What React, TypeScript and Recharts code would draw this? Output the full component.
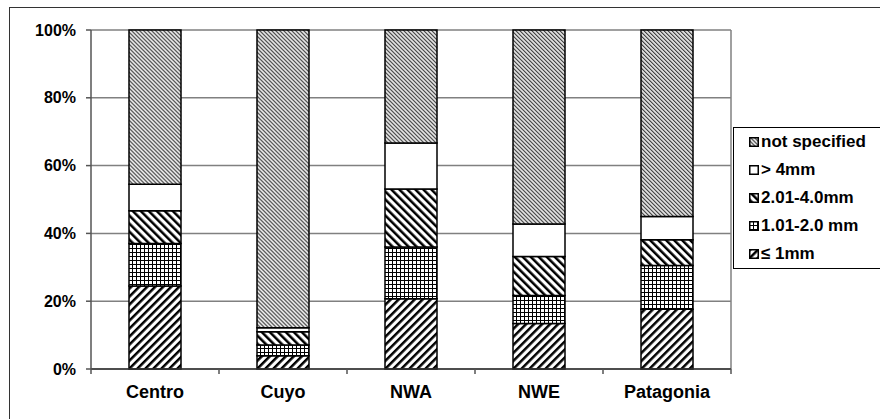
import { Bar, BarChart, CartesianGrid, XAxis, YAxis } from 'recharts'

const REGIONS = ['Centro', 'Cuyo', 'NWA', 'NWE', 'Patagonia']
const UP_TO_1MM = [24.5, 3.9, 20.7, 13.4, 17.6]
const MM_1_TO_2 = [12.5, 3.2, 15.3, 8.3, 12.9]
const MM_2_TO_4 = [9.7, 3.9, 17.1, 11.5, 7.6]
const OVER_4MM = [7.8, 1.2, 13.6, 9.6, 6.9]
const NOT_SPECIFIED = [45.5, 87.8, 33.3, 57.2, 55.0]
const Y_TICKS = [0, 20, 40, 60, 80, 100]

// stack order, bottom to top
const SERIES = [
  { key: 'le1', name: '≤ 1mm', fill: 'url(#pDiagUp)' },
  { key: 'm12', name: '1.01-2.0 mm', fill: 'url(#pGrid)' },
  { key: 'm24', name: '2.01-4.0mm', fill: 'url(#pDiagDown)' },
  { key: 'gt4', name: '> 4mm', fill: '#ffffff' },
  { key: 'ns', name: 'not specified', fill: 'url(#pFine)' },
]

const data = REGIONS.map((region, i) => ({
  region,
  le1: UP_TO_1MM[i],
  m12: MM_1_TO_2[i],
  m24: MM_2_TO_4[i],
  gt4: OVER_4MM[i],
  ns: NOT_SPECIFIED[i],
}))

const FONT = '"Liberation Sans", Arial, sans-serif'

function Patterns() {
  return (
    <svg width={0} height={0} style={{ position: 'absolute' }}>
      <defs>
        <pattern id="pDiagUp" patternUnits="userSpaceOnUse" width={5.66} height={10} patternTransform="rotate(45)">
          <rect width={5.66} height={10} fill="#fff" />
          <rect width={2.5} height={10} fill="#000" />
        </pattern>
        <pattern id="pDiagDown" patternUnits="userSpaceOnUse" width={5.66} height={10} patternTransform="rotate(-45)">
          <rect width={5.66} height={10} fill="#fff" />
          <rect width={2.5} height={10} fill="#000" />
        </pattern>
        <pattern id="pGrid" patternUnits="userSpaceOnUse" width={4} height={4}>
          <rect width={4} height={4} fill="#fff" />
          <rect width={4} height={1} fill="#000" />
          <rect width={1} height={4} fill="#000" />
        </pattern>
        <pattern id="pFine" patternUnits="userSpaceOnUse" width={2.83} height={10} patternTransform="rotate(-45)">
          <rect width={2.83} height={10} fill="#fff" />
          <rect width={1.3} height={10} fill="#444" />
        </pattern>
      </defs>
    </svg>
  )
}

function RegionTick(props: any) {
  const { x, y, payload } = props
  const half = payload?.offset ?? 64
  const last = payload?.index === REGIONS.length - 1
  return (
    <g>
      <line x1={x - half} x2={x - half} y1={y} y2={y + 5} stroke="#555" strokeWidth={1.5} />
      {last && <line x1={x + half} x2={x + half} y1={y} y2={y + 5} stroke="#555" strokeWidth={1.5} />}
      <text x={x} y={y + 29} textAnchor="middle" fontFamily={FONT} fontWeight="bold" fontSize={18} fill="#000">
        {payload.value}
      </text>
    </g>
  )
}

function LegendBox() {
  const items = [...SERIES].reverse()
  return (
    <div
      style={{
        position: 'absolute', left: 733, top: 127, width: 200,
        border: '1.5px solid #000', background: '#fff',
        fontFamily: FONT, fontWeight: 'bold', fontSize: 17,
      }}
    >
      {items.map((s) => (
        <div key={s.key} style={{ height: 28, display: 'flex', alignItems: 'center', paddingLeft: 15 }}>
          <svg width={10} height={10} style={{ marginRight: 2 }}>
            <rect x={0.75} y={0.75} width={8.5} height={8.5} fill={s.fill} stroke="#000" strokeWidth={1.5} />
          </svg>
          <span>{s.name}</span>
        </div>
      ))}
    </div>
  )
}

export default function App() {
  return (
    <div style={{ position: 'absolute', left: 0, top: 0, width: 880, height: 419, overflow: 'hidden', background: '#fff' }}>
      <Patterns />
      <div style={{ position: 'absolute', left: 9, top: 7, width: 1000, height: 600, border: '1.5px solid #333' }} />
      <div style={{ position: 'absolute', left: 0, top: 0 }}>
        <BarChart width={880} height={419} data={data} margin={{ top: 30, right: 149, bottom: 10, left: 0 }}
                  barSize={52}>
          <CartesianGrid stroke="#808080" strokeWidth={1.5}
                         verticalCoordinatesGenerator={({ offset }: any) => [offset.left + offset.width]} />
          <XAxis dataKey="region" height={40} tickLine={false} tickSize={0} tickMargin={0}
                 axisLine={{ stroke: '#333', strokeWidth: 1.5 }} tick={<RegionTick />} interval={0} />
          <YAxis width={91} domain={[0, 100]} ticks={Y_TICKS} tickFormatter={(v: number) => `${v}%`}
                 tickSize={5} tickMargin={10} axisLine={{ stroke: '#555', strokeWidth: 1.5 }}
                 tickLine={{ stroke: '#555', strokeWidth: 1.5 }}
                 tick={{ fontFamily: FONT, fontWeight: 'bold', fontSize: 16, fill: '#000' }} />
          {SERIES.map((s) => (
            <Bar key={s.key} dataKey={s.key} name={s.name} stackId="a" fill={s.fill}
                 stroke="#000" strokeWidth={1.5} isAnimationActive={false} />
          ))}
        </BarChart>
      </div>
      <LegendBox />
    </div>
  )
}
